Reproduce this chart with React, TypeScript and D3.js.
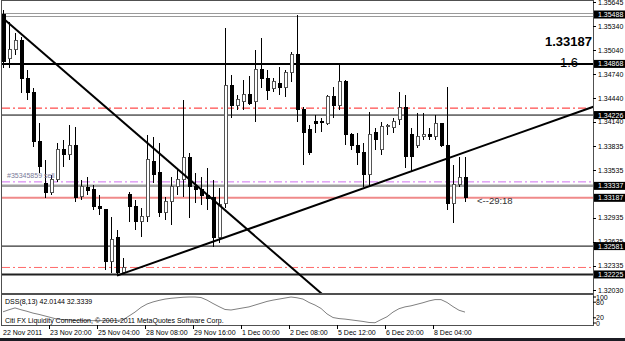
import React from "react";
import * as d3 from "d3";

// ---- data (H4 EURUSD-like candles) ----
const opens = [1.35494,1.34942,1.35043,1.35168,1.34679,1.34503,1.33888,1.33373,1.33248,1.33411,1.33788,1.33725,1.33850,1.33198,1.33311,1.33286,1.33072,1.33035,1.32382,1.32683,1.32244,1.33223,1.33072,1.32884,1.32947,1.33637,1.33499,1.33009,1.33135,1.33323,1.33411,1.33687,1.33323,1.33286,1.33210,1.33185,1.32683,1.33122,1.34603,1.34340,1.34390,1.34490,1.34390,1.34792,1.34691,1.34553,1.34628,1.34578,1.34766,1.34980,1.34290,1.34039,1.34139,1.34139,1.34126,1.34465,1.34340,1.34653,1.33976,1.33850,1.33750,1.33474,1.34001,1.33788,1.34076,1.34064,1.34164,1.34327,1.33976,1.33850,1.33951,1.33976,1.33951,1.34126,1.33850,1.33122,1.33348,1.33436];
const highs = [1.35545,1.35394,1.35256,1.35206,1.34792,1.34566,1.34126,1.33662,1.33474,1.33875,1.33913,1.34101,1.34076,1.33411,1.33449,1.33348,1.33223,1.33035,1.32947,1.32784,1.32432,1.33260,1.33160,1.33060,1.33976,1.33951,1.33875,1.33198,1.33449,1.33562,1.34415,1.33750,1.33499,1.33449,1.33562,1.33411,1.33311,1.35319,1.34729,1.34478,1.34666,1.34716,1.35043,1.35193,1.34792,1.34691,1.34829,1.34792,1.35017,1.35482,1.34327,1.34101,1.34227,1.34189,1.34478,1.34578,1.34854,1.34666,1.34001,1.34001,1.33875,1.34264,1.34064,1.34139,1.34114,1.34189,1.34515,1.34478,1.34064,1.34252,1.34252,1.34064,1.34227,1.34126,1.34578,1.33599,1.33700,1.33700];
const lows = [1.34817,1.34817,1.34980,1.34503,1.34415,1.33825,1.33499,1.33185,1.33223,1.33386,1.33574,1.33662,1.33135,1.33160,1.33223,1.33035,1.32972,1.32282,1.32244,1.32225,1.32230,1.32884,1.32784,1.32696,1.32884,1.33373,1.32947,1.32909,1.32846,1.33223,1.33198,1.32934,1.33122,1.33097,1.33035,1.32570,1.32620,1.33060,1.34189,1.34290,1.34290,1.34352,1.34139,1.34566,1.34415,1.34515,1.34478,1.34453,1.34641,1.34139,1.33599,1.33725,1.34001,1.34013,1.34101,1.34189,1.34290,1.33850,1.33788,1.33599,1.33323,1.33323,1.33788,1.33725,1.33976,1.34001,1.34101,1.33562,1.33511,1.33813,1.33913,1.33913,1.33913,1.33825,1.33035,1.32871,1.33323,1.33135];
const closes = [1.34892,1.35043,1.35168,1.34679,1.34515,1.33888,1.33574,1.33248,1.33411,1.33788,1.33725,1.33850,1.33185,1.33323,1.33273,1.33072,1.33047,1.32382,1.32658,1.32244,1.32307,1.33072,1.32884,1.32947,1.33662,1.33474,1.33009,1.33135,1.33323,1.33411,1.33687,1.33323,1.33286,1.33210,1.33173,1.32683,1.33097,1.34603,1.34340,1.34415,1.34490,1.34377,1.34792,1.34691,1.34528,1.34641,1.34578,1.34766,1.34980,1.34290,1.34013,1.33750,1.34126,1.34133,1.34453,1.34340,1.34653,1.33976,1.33850,1.33750,1.33474,1.33976,1.33913,1.34076,1.34089,1.34151,1.34327,1.33700,1.33700,1.33951,1.33976,1.33963,1.34126,1.33850,1.33122,1.33348,1.33436,1.33187];
const dss = [43,51,58,51,45,38,33,27,21,15,13,12,10,9,9,9,9,9,9,10,12,27,42,60,73,81,87,92,95,97,99,100,100,98,88,75,63,52,50,54,58,62,69,76,83,88,92,96,100,97,92,79,69,56,35,21,17,15,12,9,6,2,1,13,24,42,55,62,66,72,78,85,90,90,79,63,49,42];

const dateLabels = ["22 Nov 2011","23 Nov 20:00","25 Nov 04:00","28 Nov 08:00","29 Nov 16:00","1 Dec 00:00","2 Dec 08:00","5 Dec 12:00","6 Dec 20:00","8 Dec 04:00"];
const dateBars = [0,8,16,24,32,40,48,56,64,72];
const priceTicks = [1.35645,1.35340,1.35040,1.34740,1.34440,1.34140,1.33835,1.33535,1.32935,1.32635,1.32335,1.32030];
const markedPrices = [1.35488,1.34868,1.34226,1.33337,1.33187,1.32581,1.32225];
const indTicks = [100,80,20,0];

// horizontal levels: price, colour, width, dash, double
const levelPrices = [1.35488,1.34868,1.34313,1.34226,1.33387,1.33337,1.33187,1.32581,1.32313,1.32225];
const levelColors = ["#9a9a9a","#000000","#ff2020","#000000","#d070f0","#a0a0a0","#f08a8a","#000000","#ff6a6a","#202020"];
const levelWidths = [1,2,1,1,1,2.5,2,1,1,2];
const levelDashes = ["","","8,3,2,3","","8,3,2,3","","","","8,3,2,3",""];
const levelDouble = [true,false,false,false,false,false,false,false,false,false];

// trend lines: two anchor points each (bar index, price)
const trendA = [[0,1.35440],[53,1.31991]];
const trendB = [[19,1.32210],[98,1.34320]];

const FONT = "'Liberation Sans', Arial, sans-serif";

export default function App() {
  const W = 625, H = 341;
  const L = 2, R = 593, mTop = 1, mBot = 293, iTop = 294, iBot = 325;
  const x = d3.scaleLinear().domain([0, 77]).range([3, 465]);
  const y = d3.scaleLinear().domain([1.32030, 1.35645]).range([290, 2]);
  const yi = d3.scaleLinear().domain([0, 100]).range([323, 297]);
  const dssLine = d3.line<number>().x((_, i) => x(i)).y(d => yi(d));

  const trend = (pts: number[][], i0: number, i1: number) => {
    const [[a, pa], [b, pb]] = pts;
    const f = (i: number) => pa + (i - a) * (pb - pa) / (b - a);
    return { x1: x(i0), y1: y(f(i0)), x2: x(i1), y2: y(f(i1)) };
  };
  const tA = trend(trendA, 0, 60);
  const tB = trend(trendB, 19, 100);

  return (
    <svg width={W} height={H} style={{ position: "absolute", left: 0, top: 0, background: "#fff" }}
      fontFamily={FONT}>
      <defs>
        <clipPath id="mainClip"><rect x={L} y={mTop} width={R - L} height={mBot - mTop} /></clipPath>
        <clipPath id="indClip"><rect x={L} y={iTop} width={R - L} height={iBot - iTop} /></clipPath>
      </defs>
      <rect x={0} y={0} width={W} height={H} fill="#fff" />

      <g clipPath="url(#mainClip)">
        {levelPrices.map((p, k) => levelDouble[k] ? (
          <g key={k}>
            <line x1={L} x2={R} y1={Math.round(y(p)) - 1.5} y2={Math.round(y(p)) - 1.5} stroke={levelColors[k]} strokeWidth={1} />
            <line x1={L} x2={R} y1={Math.round(y(p)) + 1.5} y2={Math.round(y(p)) + 1.5} stroke={levelColors[k]} strokeWidth={1} />
          </g>
        ) : (
          <line key={k} x1={L} x2={R} y1={y(p)} y2={y(p)} stroke={levelColors[k]} strokeWidth={levelWidths[k]}
            strokeDasharray={levelDashes[k] || undefined} />
        ))}

        {opens.map((o, i) => {
          const c = closes[i];
          const cx = Math.round(x(i)) + 0.5;
          const top = y(Math.max(o, c)), bot = y(Math.min(o, c));
          const bull = c >= o;
          return (
            <g key={i} shapeRendering="crispEdges">
              <line x1={cx} x2={cx} y1={y(highs[i])} y2={y(lows[i])} stroke="#000" strokeWidth={1} />
              <rect x={cx - 1.5} y={top} width={3} height={Math.max(1, bot - top)}
                fill={bull ? "#fff" : "#000"} stroke={bull ? "#555" : "#000"} strokeWidth={1} />
            </g>
          );
        })}

        <line {...tA} stroke="#000" strokeWidth={2} />
        <line {...tB} stroke="#000" strokeWidth={2} />

        <text x={7} y={178} fontSize={7} fill="#7a7a98">#35345859 sell</text>
        <text x={477} y={204} fontSize={9.5} fill="#333">&lt;--29:18</text>
        <text x={545} y={46} fontSize={13} fontWeight="bold" fill="#000">1.33187</text>
        <text x={560} y={67} fontSize={13} fill="#000">1.6</text>
      </g>

      {/* frames */}
      <rect x={L - 0.5} y={mTop - 0.5} width={R - L + 1} height={mBot - mTop + 1} fill="none" stroke="#505050" />
      <rect x={L - 0.5} y={iTop + 0.5} width={R - L + 1} height={iBot - iTop} fill="none" stroke="#505050" />

      {/* price axis */}
      {priceTicks.map((p, k) => (
        <g key={k}>
          <line x1={R} x2={R + 3} y1={Math.round(y(p)) + 0.5} y2={Math.round(y(p)) + 0.5} stroke="#000" />
          <text x={598} y={y(p) + 2.5} fontSize={7} fill="#000">{p.toFixed(5)}</text>
        </g>
      ))}
      {markedPrices.map((p, k) => (
        <g key={k}>
          <rect x={594} y={y(p) - 4} width={31} height={8} fill="#000" />
          <text x={598} y={y(p) + 2.5} fontSize={7} fill="#fff">{p.toFixed(5)}</text>
        </g>
      ))}

      {/* indicator */}
      <g clipPath="url(#indClip)">
        <path d={dssLine(dss) || ""} fill="none" stroke="#808080" strokeWidth={1} />
        <text x={5} y={304} fontSize={7} fill="#000">DSS(8,13) 42.0144 32.3339</text>
        <text x={5} y={323} fontSize={7} fill="#000">Citi FX Liquidity Connection, © 2001-2011 MetaQuotes Software Corp.</text>
      </g>
      {indTicks.map((v, k) => (
        <g key={k}>
          <line x1={R} x2={R + 3} y1={yi(v)} y2={yi(v)} stroke="#000" />
          <text x={596} y={yi(v) + 2.5} fontSize={7} fill="#000">{v}</text>
        </g>
      ))}

      {/* time axis */}
      {dateLabels.map((t, k) => {
        const tx = k === 0 ? L : Math.round(x(dateBars[k])) - 2;
        return (
          <g key={k}>
            {k > 0 && <line x1={tx + 0.5} x2={tx + 0.5} y1={iBot} y2={iBot + 4} stroke="#000" />}
            <text x={tx + 1} y={335} fontSize={7} fill="#000">{t}</text>
          </g>
        );
      })}
      <rect x={0} y={338} width={W} height={3} fill="#1c1c24" />
    </svg>
  );
}
